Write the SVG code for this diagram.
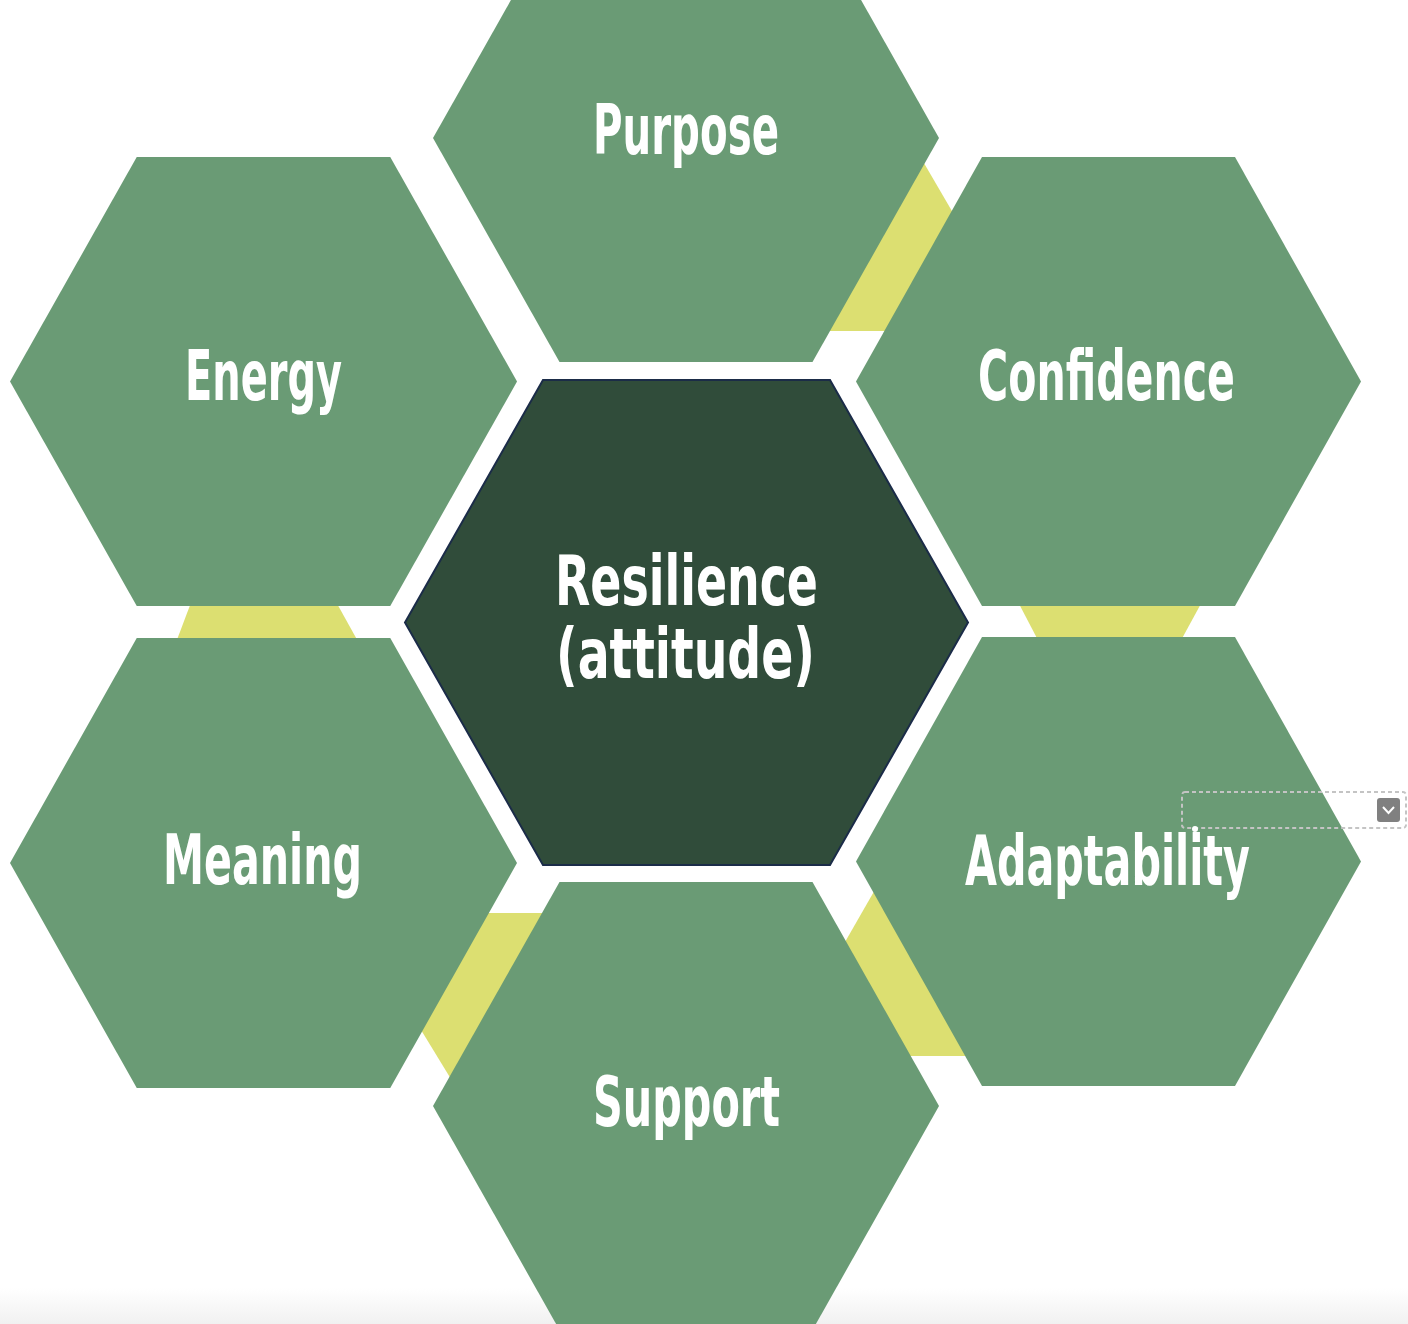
<svg xmlns="http://www.w3.org/2000/svg" width="1408" height="1324" viewBox="0 0 1408 1324">
  <defs>
    <linearGradient id="bottomFade" x1="0" y1="0" x2="0" y2="1">
      <stop offset="0" stop-color="#ffffff"/>
      <stop offset="1" stop-color="#f1f1f1"/>
    </linearGradient>
    <style>
      .hex { fill: #6a9b75; }
      .core { fill: #304c3a; stroke: #1b2c48; stroke-width: 2; }
      .band { fill: #dcdf71; }
      .lbl { fill: #ffffff; font-family: "Liberation Sans Narrow", "DejaVu Sans Condensed", "Liberation Sans", sans-serif; font-weight: bold; font-stretch: condensed; font-size: 70px; text-anchor: middle; }
      .lbl-core { font-size: 70px; }
    </style>
  </defs>
  <rect x="0" y="0" width="1408" height="1324" fill="#ffffff"/>
  <rect x="0" y="1288" width="1408" height="36" fill="url(#bottomFade)"/>

  <g id="bands">
    <polygon class="band" points="921,158 956,218 890,331 824,331"/>
    <polygon class="band" points="192,600 335,600 360,645 175,645"/>
    <polygon class="band" points="1017,600 1203,600 1179,644 1040,644"/>
    <polygon class="band" points="484,913 549,913 454,1084 418,1025"/>
    <polygon class="band" points="876,888 841,949 905,1056 972,1056"/>
  </g>

  <g id="connectors"></g>

  <g id="node-purpose">
    <polygon class="hex" points="433,138 559.5,-86 812.5,-86 939,138 812.5,362 559.5,362"/>
    <text class="lbl" x="686" y="154" textLength="186" lengthAdjust="spacingAndGlyphs">Purpose</text>
  </g>
  <g id="node-energy">
    <polygon class="hex" points="10,381.5 136.75,157 390.25,157 517,381.5 390.25,606 136.75,606"/>
    <text class="lbl" x="263.5" y="400" textLength="157" lengthAdjust="spacingAndGlyphs">Energy</text>
  </g>
  <g id="node-confidence">
    <polygon class="hex" points="856,381.5 982,157 1235,157 1361,381.5 1235,606 982,606"/>
    <text class="lbl" x="1106.5" y="400" textLength="257" lengthAdjust="spacingAndGlyphs">Confidence</text>
  </g>
  <g id="node-meaning">
    <polygon class="hex" points="10,863 136.75,638 390.25,638 517,863 390.25,1088 136.75,1088"/>
    <text class="lbl" x="262.5" y="884" textLength="199" lengthAdjust="spacingAndGlyphs">Meaning</text>
  </g>
  <g id="node-adaptability">
    <polygon class="hex" points="856,861.5 982,637 1235,637 1361,861.5 1235,1086 982,1086"/>
    <text class="lbl" x="1107.5" y="885" textLength="285" lengthAdjust="spacingAndGlyphs">Adaptability</text>
  </g>
  <g id="node-support">
    <polygon class="hex" points="433,1106 559.5,882 812.5,882 939,1106 812.5,1330 559.5,1330"/>
    <text class="lbl" x="686.5" y="1126" textLength="187" lengthAdjust="spacingAndGlyphs">Support</text>
  </g>
  <g id="node-resilience">
    <polygon class="core" points="405,622.5 543,380 830,380 968,622.5 830,865 543,865"/>
    <text class="lbl lbl-core" x="686.5" y="605" textLength="263" lengthAdjust="spacingAndGlyphs">Resilience</text>
    <text class="lbl lbl-core" x="685.5" y="678" textLength="259" lengthAdjust="spacingAndGlyphs">(attitude)</text>
  </g>

  <g id="ui-overlay">
    <rect x="1182" y="792" width="224" height="36" rx="3" fill="none" stroke="#c4c4c4" stroke-width="2" stroke-dasharray="4 3"/>
    <rect x="1377" y="798" width="23" height="24" rx="3" fill="#808080"/>
    <polyline points="1383,807 1388.5,813 1394,807" fill="none" stroke="#ffffff" stroke-width="2"/>
    <circle cx="1195" cy="829" r="3" fill="#ffffff"/>
  </g>
</svg>
